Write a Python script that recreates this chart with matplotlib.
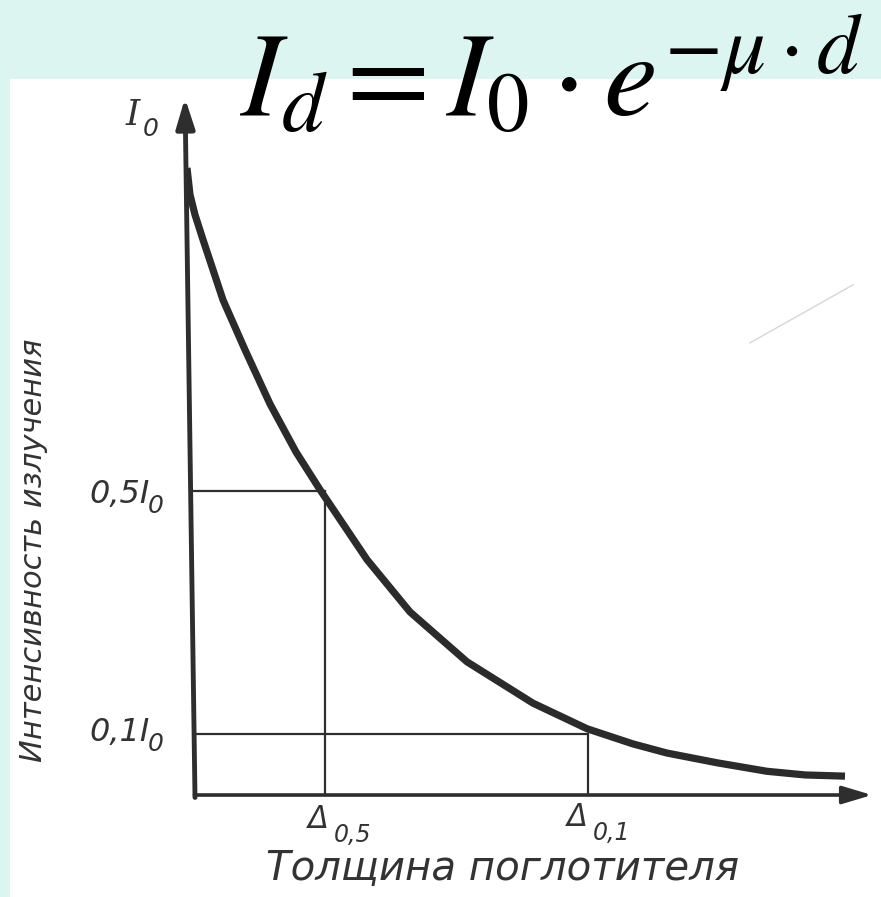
import matplotlib
matplotlib.use("Agg")
import matplotlib.pyplot as plt
from matplotlib.patches import Rectangle
from matplotlib import font_manager

# ---------------- data ----------------
thickness = [-0.08, -0.05, 0.00, 0.08, 0.28, 0.50, 0.75, 1.01, 1.25, 1.72,
             2.15, 2.72, 3.38, 3.92, 4.38, 4.72, 5.22, 5.72, 6.10, 6.50]
intensity = [1.031, 0.987, 0.954, 0.913, 0.814, 0.732, 0.643, 0.564, 0.502, 0.387,
             0.301, 0.219, 0.151, 0.109, 0.084, 0.069, 0.053, 0.039, 0.033, 0.031]
levels = [0.5, 0.1]
level_labels = ["0,5I", "0,1I"]
level_thickness = [1.30, 3.93]
delta_labels = ["0,5", "0,1"]
top_label = "I"
sub0 = "0"
title = r"$I_d = I_0 \cdot e^{-\mu \cdot d}$"
xlabel = "Толщина поглотителя"
ylabel = "Интенсивность излучения"


def have_font(name):
    try:
        font_manager.findfont(font_manager.FontProperties(family=name),
                              fallback_to_default=False)
        return True
    except Exception:
        return False


if have_font("Liberation Sans Narrow"):
    yl_family, yl_size = ["Liberation Sans Narrow", "DejaVu Sans"], 28
elif have_font("DejaVu Sans Condensed"):
    yl_family, yl_size = ["DejaVu Sans Condensed", "DejaVu Sans"], 25
else:
    yl_family, yl_size = ["DejaVu Sans"], 22

W, H = 881, 897
fig = plt.figure(figsize=(W / 100, H / 100), dpi=100)
fig.patch.set_facecolor("#dcf5f1")
fig.patches.append(Rectangle((10 / W, 0), (W - 10) / W, (H - 79) / H,
                             transform=fig.transFigure, facecolor="white",
                             edgecolor="none", zorder=-10))

ax = fig.add_axes([185 / W, (H - 800) / H, 690 / W, 702 / H])
ax.set_zorder(1)
ax.set_xlim(-0.10, 6.80)
ax.set_ylim(-0.0082, 1.146)
ax.axis("off")
ax.patch.set_alpha(0)

ink = "#2e2e2e"
# axes arrows
ax.annotate("", xy=(-0.10, 1.146), xytext=(0.0, -0.004),
            arrowprops=dict(arrowstyle="-|>,head_length=0.9,head_width=0.28",
                            lw=3.5, color=ink, shrinkA=0, shrinkB=0,
                            mutation_scale=20))
ax.annotate("", xy=(6.77, 0.0), xytext=(-0.005, 0.0),
            arrowprops=dict(arrowstyle="-|>,head_length=1.0,head_width=0.3",
                            lw=2.6, color=ink, shrinkA=0, shrinkB=0,
                            mutation_scale=18))

# guide lines
for lv, tx in zip(levels, level_thickness):
    x_axis_at = -0.10 * lv / 1.146
    ax.plot([x_axis_at, tx - 0.01], [lv, lv], color=ink, lw=1.6)
    ax.plot([tx, tx], [0, lv], color=ink, lw=1.6)

# curve
ax.plot(thickness, intensity, color="#2b2b2b", lw=5.2,
        solid_capstyle="butt", solid_joinstyle="round")

tick_font = dict(family="DejaVu Sans", style="italic", color="#333333")
# level labels
for lv, lab, dy_main, dy_sub in zip(levels, level_labels, [-4, 2], [-15, -10]):
    ax.annotate(lab, xy=(0, lv), xytext=(-45, dy_main), textcoords="offset pixels",
                ha="right", va="center", fontsize=23, **tick_font)
    ax.annotate(sub0, xy=(0, lv), xytext=(-47, dy_sub), textcoords="offset pixels",
                ha="left", va="center", fontsize=18, **tick_font)
# top I0 label
ax.annotate(top_label, xy=(0, 1.0), xytext=(-62, 72), textcoords="offset pixels",
            ha="center", va="center", fontsize=26, family="DejaVu Serif",
            style="italic", color="#333333")
ax.annotate(sub0, xy=(0, 1.0), xytext=(-44, 58), textcoords="offset pixels",
            ha="center", va="center", fontsize=18, **tick_font)

# delta labels
for tx, lab, off in zip(level_thickness, delta_labels, [(-7, -24, 9, -40), (-11, -22, 5, -38)]):
    ax.annotate("Δ", xy=(tx, 0), xytext=(off[0], off[1]), textcoords="offset pixels",
                ha="center", va="center", fontsize=22, **tick_font)
    ax.annotate(lab, xy=(tx, 0), xytext=(off[2], off[3]), textcoords="offset pixels",
                ha="left", va="center", fontsize=17, **tick_font)

# axis titles
fig.text(503 / W, 1 - 868 / H, xlabel, ha="center", va="center", fontsize=29,
         family="DejaVu Sans", style="italic", color="#333333")
fig.text(34 / W, 1 - 550 / H, ylabel, ha="center", va="center", rotation=90,
         fontsize=yl_size, family=yl_family, style="italic", color="#333333")

# formula
fig.text(551 / W, 1 - 116 / H, title, ha="center", va="baseline", fontsize=87,
         math_fontfamily="stix", color="black")

# faint scan mark
ax.plot([(750 - 195) / 100, (853 - 195) / 100], [(795 - 343) / 608, (795 - 285) / 608],
        color="#d6d6d6", lw=1.0)

fig.savefig("out.png", dpi=100, facecolor=fig.get_facecolor())
